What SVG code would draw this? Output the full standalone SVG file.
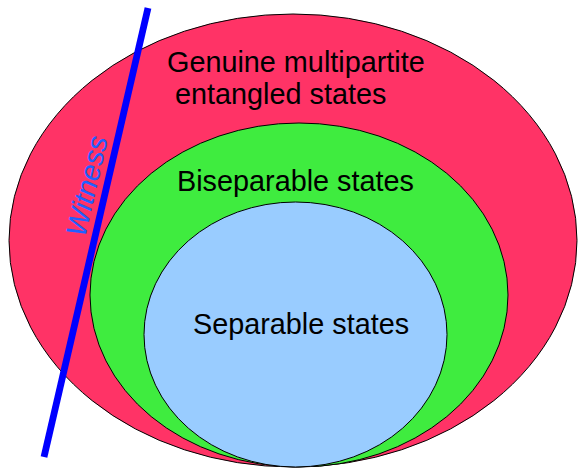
<svg xmlns="http://www.w3.org/2000/svg" width="578" height="468" viewBox="0 0 578 468">
<style>
.set{stroke:#000;stroke-width:1}
.lbl{font-family:"Liberation Sans",Arial,sans-serif;font-size:28.8px;fill:#000}
</style>
<rect width="578" height="468" fill="#fff"/>
<g id="genuine">
<ellipse class="set" cx="293" cy="240.5" rx="284" ry="226.5" fill="#ff3366"/>
<text class="lbl" x="167" y="72">Genuine multipartite</text>
<text class="lbl" x="175" y="104">entangled states</text>
</g>
<g id="biseparable">
<ellipse class="set" cx="299" cy="295" rx="209" ry="172" fill="#3fec3f"/>
<text class="lbl" x="177" y="191">Biseparable states</text>
</g>
<g id="separable">
<ellipse class="set" cx="295.5" cy="334.5" rx="151.5" ry="132.5" fill="#99ccff"/>
<text class="lbl" x="193" y="334">Separable states</text>
</g>
<g id="connectors">
<line x1="148" y1="8" x2="44" y2="457" stroke="#0000ff" stroke-width="6.8"/>
</g>
<g id="witness">
<text x="85" y="238" transform="rotate(-77 85 238)" font-family="Liberation Sans,Arial,sans-serif" font-size="28.8" font-style="italic" fill="#2060ff">Witness</text>
</g>
</svg>
